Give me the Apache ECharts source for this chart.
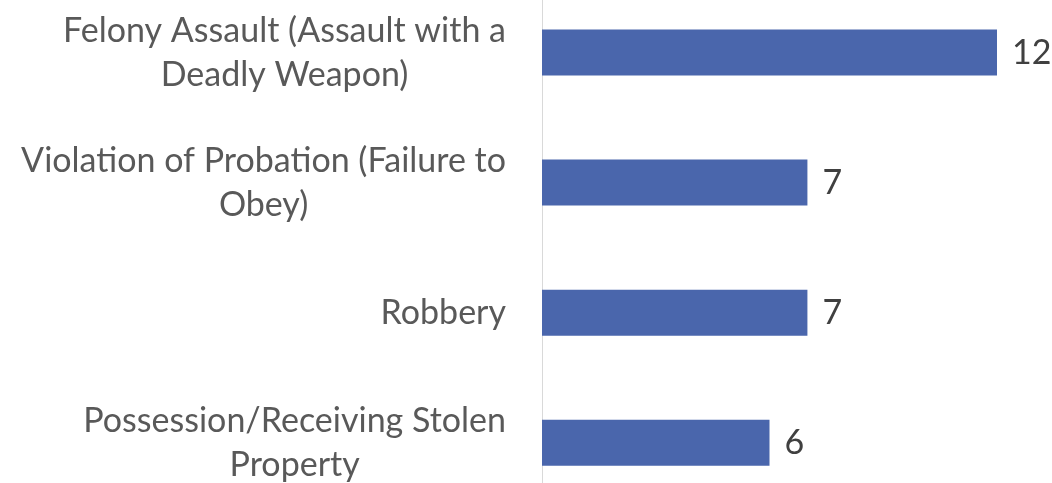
<!DOCTYPE html>
<html>
<head>
<meta charset="utf-8">
<script src="https://cdn.jsdelivr.net/npm/echarts@6/dist/echarts.min.js"></script>
<style>
html,body{margin:0;padding:0;background:#fff;}
#chart{width:1052px;height:483px;}
</style>
</head>
<body>
<div id="chart"></div>
<script>
const categories = [
  "Felony Assault (Assault with a\nDeadly Weapon)",
  "Violation of Probation (Failure to\nObey)",
  "Robbery",
  "Possession/Receiving Stolen\nProperty"
];
const values = [12, 7, 7, 6];

const FONT = 'Lato, "Open Sans", sans-serif';
const chart = echarts.init(document.getElementById('chart'));
chart.setOption({
  animation: false,
  backgroundColor: '#ffffff',
  grid: { left: 542, top: -12.5, height: 520.3, width: 455, outerBoundsMode: 'none', containLabel: false },
  xAxis: {
    type: 'value', min: 0, max: 12, show: false
  },
  yAxis: {
    type: 'category',
    data: categories,
    inverse: true,
    axisLine: { show: true, lineStyle: { color: '#d9d9d9', width: 1 } },
    axisTick: { show: false },
    axisLabel: {
      margin: 36,
      align: 'right',
      fontFamily: FONT,
      fontSize: 34,
      lineHeight: 44,
      color: '#595959',
      formatter: v => v.split('\n').map(l => '{c|' + l + '}').join('\n'),
      rich: { c: { align: 'center', fontFamily: FONT, fontSize: 34, lineHeight: 44, color: '#595959' } }
    }
  },
  series: [{
    type: 'bar',
    data: values,
    barWidth: 46,
    itemStyle: { color: '#4a66ac' },
    label: {
      show: true, position: 'right', distance: 15,
      fontFamily: FONT, fontSize: 34, color: '#404040'
    }
  }]
});
</script>
</body>
</html>
